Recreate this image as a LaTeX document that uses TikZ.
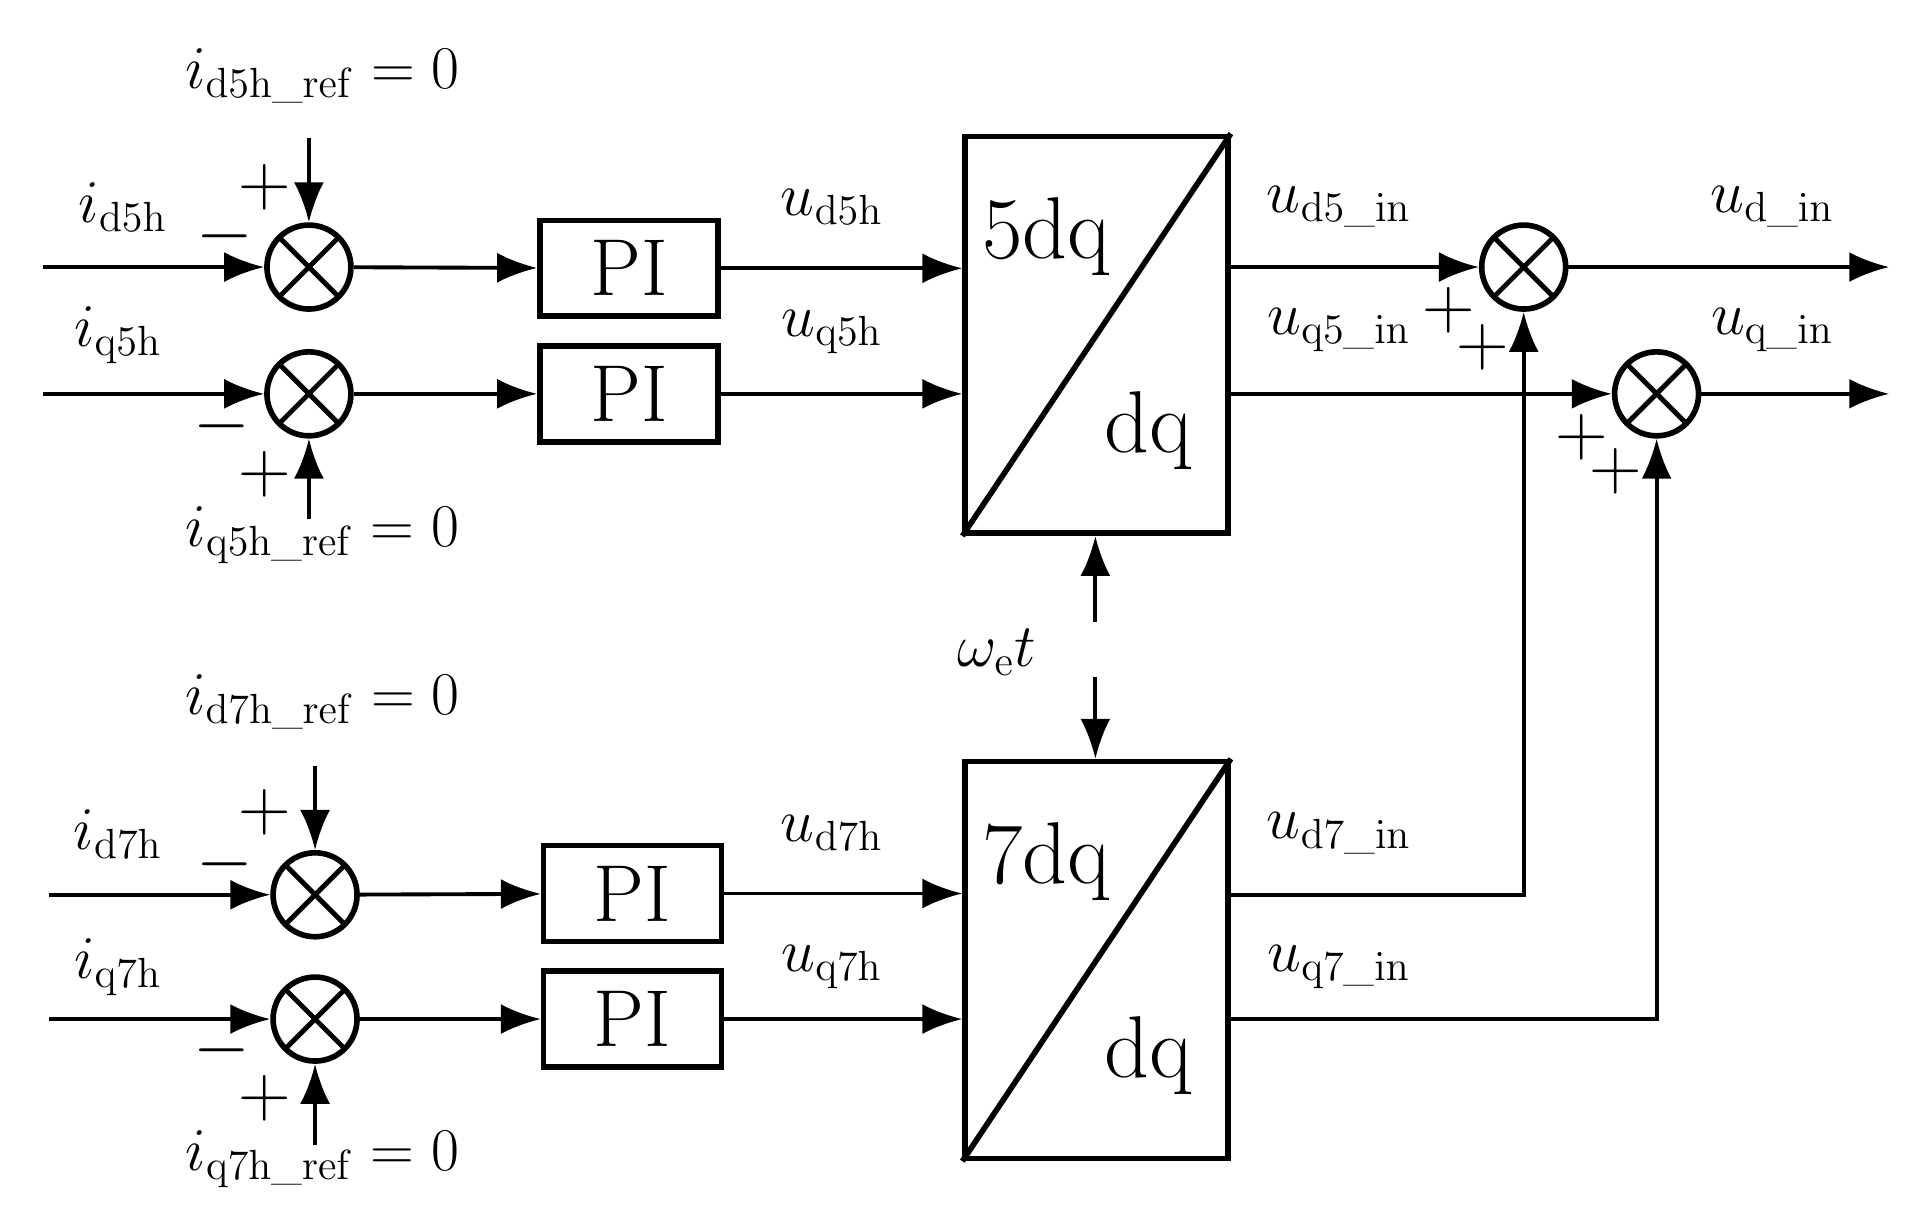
\documentclass[tikz,border=0pt]{standalone}
\usepackage{amsmath}
\usetikzlibrary{arrows.meta,positioning}
\begin{document}
\begin{tikzpicture}[x=0.012308cm, y=-0.012308cm, >={Latex[length=4mm,width=3mm]}, line width=1.1pt,
    sum/.style={circle, draw, line width=1.6pt, minimum size=8.4mm, inner sep=0pt,
      path picture={\draw[line width=1.4pt] (path picture bounding box.north west) -- (path picture bounding box.south east)
        (path picture bounding box.north east) -- (path picture bounding box.south west);}},
    pi/.style={draw, line width=1.6pt, minimum width=1.78cm, minimum height=0.96cm, font=\fontsize{23}{25}\selectfont},
    trans/.style={draw, line width=1.6pt, minimum width=2.63cm, minimum height=3.97cm},
    lbl/.style={font=\fontsize{17}{20}\selectfont},
    sgn/.style={font=\fontsize{20}{22}\selectfont}]
\useasboundingbox (0,0) rectangle (1560,985.6);
% summing junctions
\node[sum] (s1) at (251,217) {};
\node[sum] (s2) at (251,320) {};
\node[sum] (s3) at (256,727) {};
\node[sum] (s4) at (256,828) {};
\node[sum] (s5) at (1238,217) {};
\node[sum] (s6) at (1346,320) {};
% PI controllers
\node[pi] (pi1) at (511,218) {PI};
\node[pi] (pi2) at (511,320) {PI};
\node[pi] (pi3) at (514,726) {PI};
\node[pi] (pi4) at (514,828) {PI};
% transforms
\node[trans] (t5) at (891,272) {};
\node[trans] (t7) at (891,780) {};
\draw[line width=1.6pt] (t5.south west) -- (t5.north east) (t7.south west) -- (t7.north east);
\node[font=\fontsize{25}{27}\selectfont] at (850,192) {5dq};
\node[font=\fontsize{25}{27}\selectfont] at (933,350) {dq};
\node[font=\fontsize{25}{27}\selectfont] at (850,700) {7dq};
\node[font=\fontsize{25}{27}\selectfont] at (933,858) {dq};
% inputs
\coordinate (in1) at (35,217); \coordinate (in2) at (35,320);
\coordinate (in3) at (40,727); \coordinate (in4) at (40,828);
\draw[->] (in1) -- (s1); \draw[->] (in2) -- (s2);
\draw[->] (in3) -- (s3); \draw[->] (in4) -- (s4);
\node[lbl] at (100,168) {$i_{\mathrm{d5h}}$};
\node[lbl] at (96,272) {$i_{\mathrm{q5h}}$};
\node[lbl] at (96,678) {$i_{\mathrm{d7h}}$};
\node[lbl] at (96,786) {$i_{\mathrm{q7h}}$};
% references
\coordinate (r1) at (251,112); \coordinate (r2) at (251,422);
\coordinate (r3) at (256,622); \coordinate (r4) at (256,930);
\draw[->] (r1) -- (s1); \draw[->] (r2) -- (s2);
\draw[->] (r3) -- (s3); \draw[->] (r4) -- (s4);
\node[lbl] at (262,62) {$i_{\mathrm{d5h\_ref}}=0$};
\node[lbl] at (262,435) {$i_{\mathrm{q5h\_ref}}=0$};
\node[lbl] at (262,570) {$i_{\mathrm{d7h\_ref}}=0$};
\node[lbl] at (262,942) {$i_{\mathrm{q7h\_ref}}=0$};
% signs
\node[sgn] at (215,152) {$+$}; \node[sgn] at (183,192) {$-$};
\node[sgn] at (180,346) {$-$}; \node[sgn] at (215,385) {$+$};
\node[sgn] at (215,660) {$+$}; \node[sgn] at (183,702) {$-$};
\node[sgn] at (180,853) {$-$}; \node[sgn] at (215,892) {$+$};
\node[sgn] at (1177,252) {$+$}; \node[sgn] at (1205,282) {$+$};
\node[sgn] at (1285,355) {$+$}; \node[sgn] at (1313,383) {$+$};
% to PI
\draw[->] (s1) -- (pi1); \draw[->] (s2) -- (pi2);
\draw[->] (s3) -- (pi3); \draw[->] (s4) -- (pi4);
% to transforms
\draw[->] (pi1) -- (t5.west |- pi1); \draw[->] (pi2) -- (t5.west |- pi2);
\draw[->] (pi3) -- (t7.west |- pi3); \draw[->] (pi4) -- (t7.west |- pi4);
\node[lbl] at (676,168) {$u_{\mathrm{d5h}}$};
\node[lbl] at (676,270) {$u_{\mathrm{q5h}}$};
\node[lbl] at (676,677) {$u_{\mathrm{d7h}}$};
\node[lbl] at (676,786) {$u_{\mathrm{q7h}}$};
% angle
\node[lbl] (w) at (810,530) {$\omega_{\mathrm{e}}t$};
\coordinate (wa) at (890,505); \coordinate (wb) at (890,550);
\draw[->] (wa) -- (t5.south -| wa);
\draw[->] (wb) -- (t7.north -| wb);
% outputs
\draw[->] (t5.east |- s5) -- (s5);
\draw[->] (t5.east |- s6) -- (s6);
\draw[->] (t7.east |- s3) -| (s5);
\draw[->] (t7.east |- s4) -| (s6);
\coordinate (o1) at (1535,217); \coordinate (o2) at (1535,320);
\draw[->] (s5) -- (o1); \draw[->] (s6) -- (o2);
\node[lbl] at (1088,168) {$u_{\mathrm{d5\_in}}$};
\node[lbl] at (1088,268) {$u_{\mathrm{q5\_in}}$};
\node[lbl] at (1088,677) {$u_{\mathrm{d7\_in}}$};
\node[lbl] at (1088,786) {$u_{\mathrm{q7\_in}}$};
\node[lbl] at (1440,168) {$u_{\mathrm{d\_in}}$};
\node[lbl] at (1440,268) {$u_{\mathrm{q\_in}}$};
\end{tikzpicture}
\end{document}
